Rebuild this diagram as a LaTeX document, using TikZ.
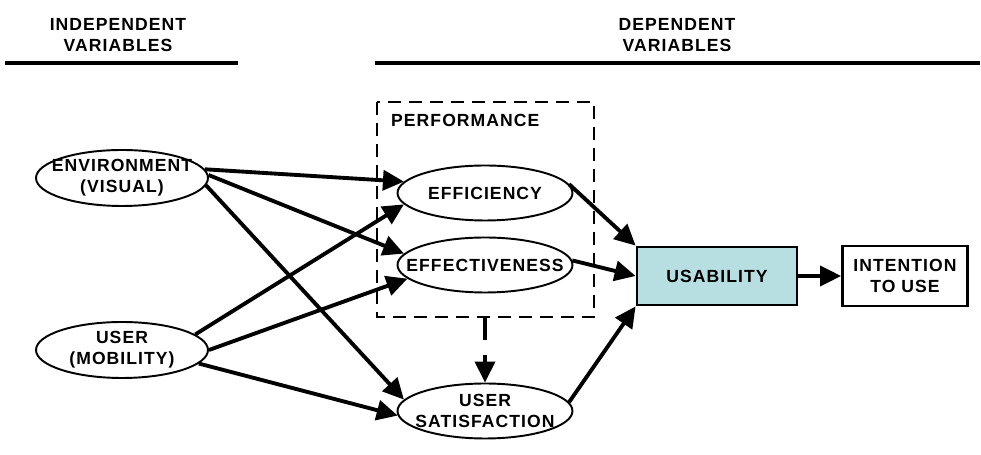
\documentclass[tikz,border=0pt]{standalone}
\usepackage{fontspec}
\setmainfont{Liberation Sans}[LetterSpace=6]
\usetikzlibrary{arrows.meta,shapes.geometric}
\definecolor{usabfill}{RGB}{183,223,226}
\tikzset{
    varnode/.style={draw, ellipse, line width=1.1pt, minimum width=3.5cm, minimum height=1.1cm, inner sep=0pt,
        label={[align=center, font=\bfseries\fontsize{10}{12}\selectfont]center:#1}},
    link/.style={line width=2.2pt, -{Triangle[length=0.42cm,width=0.4cm]}},
    dashlink/.style={link, dash pattern=on 0.46cm off 0.3cm},
    outbox/.style={draw, rectangle, line width=1.6pt, align=center, font=\bfseries},
    header/.style={align=center, font=\bfseries}
}
\begin{document}
\begin{tikzpicture}[x=0.02cm, y=-0.02cm, every node/.append style={font=\bfseries\fontsize{10}{13}\selectfont}]
    \useasboundingbox (0,0) rectangle (981,455);

    % Headers with their rules
    \node[header] (indep) at (118,35) {INDEPENDENT\\VARIABLES};
    \node[header] (dep) at (677,35) {DEPENDENT\\VARIABLES};
    \draw[line width=1.8pt] (5,63) -- (238,63);
    \draw[line width=1.8pt] (375,63) -- (980,63);

    % Independent variables
    \node[varnode={ENVIRONMENT\\(VISUAL)}, minimum width=3.44cm, minimum height=1.12cm] (env) at (122,178) {};
    \node[varnode={USER\\(MOBILITY)}, minimum width=3.44cm, minimum height=1.12cm] (user) at (122,350) {};

    % Performance group
    \draw[line width=1.6pt, dash pattern=on 0.26cm off 0.16cm] (377,102) rectangle (594,317);
    \coordinate (perf) at (485,317);
    \node[anchor=west] (perflabel) at (385,120) {PERFORMANCE};
    \node[varnode=EFFICIENCY] (eff) at (485,193) {};
    \node[varnode=EFFECTIVENESS] (effv) at (485,265) {};
    \node[varnode={USER\\SATISFACTION}] (usat) at (485,411) {};

    % Outcomes
    \node[outbox, fill=usabfill, minimum width=3.2cm, minimum height=1.16cm] (usab) at (717,276) {USABILITY};
    \node[outbox, minimum width=2.5cm, minimum height=1.2cm] (intent) at (905,276) {INTENTION\\TO USE};

    % Links from the independent variables
    \draw[link] (env.6) -- (eff.172);
    \draw[link] (env.2) -- (effv.172);
    \draw[link] (env.-5) -- (usat.172);
    \draw[link] (user.12) -- (eff.188);
    \draw[link] (user.0) -- (effv.190);
    \draw[link] (user.-10) -- (usat.183);

    % Links to usability
    \draw[link] (eff.6) -- (usab.north west);
    \draw[link] (effv.3) -- (usab.west);
    \draw[link] (usat.6) -- (usab.south west);
    \draw[link] (usab.east) -- (intent.west);
    \draw[dashlink] (perf) -- (usat.north);
\end{tikzpicture}
\end{document}
